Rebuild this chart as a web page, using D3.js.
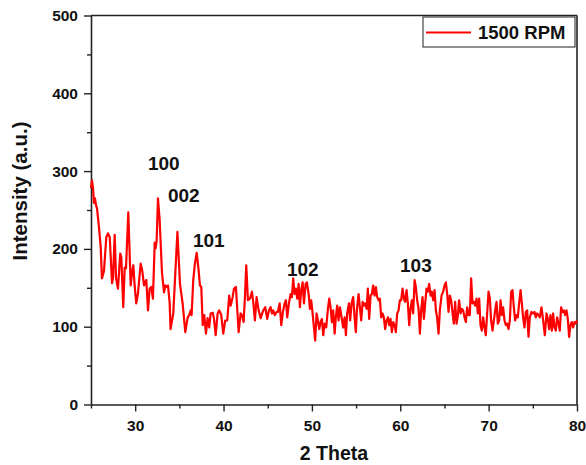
<!DOCTYPE html>
<html>
<head>
<meta charset="utf-8">
<script src="https://cdn.jsdelivr.net/npm/d3@7"></script>
<style>
  html, body { margin: 0; padding: 0; background: #fff; }
  svg text { font-family: "Liberation Sans", Arial, sans-serif; font-weight: bold; fill: #111; }
</style>
</head>
<body>
<svg id="chart" width="586" height="465"></svg>
<script>
const twoTheta = [25.00,25.11,25.23,25.34,25.45,25.57,25.68,25.90,26.10,26.24,26.47,26.73,26.92,27.12,27.38,27.49,27.68,27.83,28.05,28.31,28.43,28.65,28.81,28.96,29.22,29.49,29.67,29.79,29.94,30.12,30.32,30.62,30.80,31.00,31.26,31.45,31.64,31.82,32.01,32.21,32.32,32.43,32.58,32.77,33.03,33.26,33.41,33.60,33.71,33.90,34.00,34.31,34.78,35.07,35.37,35.67,35.94,36.12,36.28,36.39,36.57,36.76,36.96,37.14,37.33,37.48,37.64,37.82,38.01,38.20,38.38,38.54,38.77,38.91,39.11,39.33,39.51,39.74,39.97,40.19,40.42,40.64,40.80,41.03,41.18,41.40,41.71,41.93,42.08,42.27,42.42,42.57,42.76,42.99,43.21,43.36,43.55,43.74,43.97,44.20,44.49,44.72,44.94,45.14,45.33,45.48,45.62,45.81,46.01,46.15,46.35,46.53,46.72,46.91,47.06,47.21,47.40,47.59,47.74,47.88,48.04,48.19,48.34,48.50,48.64,48.79,48.95,49.10,49.29,49.43,49.63,49.77,49.92,50.08,50.23,50.37,50.53,50.68,50.83,50.98,51.13,51.28,51.44,51.62,51.81,51.96,52.11,52.26,52.41,52.57,52.71,52.86,53.02,53.17,53.36,53.54,53.70,53.85,53.99,54.19,54.33,54.49,54.67,54.83,54.97,55.09,55.28,55.43,55.58,55.74,55.88,56.03,56.19,56.33,56.48,56.64,56.79,56.93,57.09,57.24,57.39,57.55,57.69,57.84,58.00,58.14,58.29,58.45,58.60,58.74,58.90,59.05,59.20,59.35,59.50,59.65,59.81,59.95,60.10,60.26,60.41,60.55,60.71,60.86,61.01,61.16,61.31,61.46,61.62,61.76,61.91,62.07,62.22,62.36,62.52,62.67,62.82,62.97,63.12,63.27,63.43,63.57,63.72,63.88,64.03,64.17,64.33,64.48,64.67,64.85,65.01,65.16,65.31,65.46,65.61,65.76,65.92,66.06,66.21,66.37,66.52,66.66,66.82,66.97,67.12,67.27,67.42,67.57,67.73,67.87,68.02,68.18,68.33,68.47,68.63,68.78,68.93,69.08,69.23,69.38,69.54,69.68,69.83,69.99,70.14,70.28,70.44,70.59,70.74,70.89,71.04,71.19,71.35,71.49,71.64,71.80,71.95,72.09,72.25,72.40,72.55,72.70,72.85,73.00,73.16,73.30,73.45,73.61,73.76,73.90,74.06,74.21,74.36,74.51,74.66,74.85,75.03,75.19,75.34,75.49,75.64,75.79,75.98,76.17,76.36,76.55,76.70,76.84,77.00,77.15,77.30,77.45,77.60,77.75,77.91,78.05,78.20,78.36,78.51,78.65,78.81,78.96,79.11,79.26,79.41,79.56,79.72,79.86,80.00];
const intensity = [278,288,278,259,265,256,252,228,202,162,172,215,220,215,156,163,218,163,149,194,189,125,176,175,247,153,172,179,153,130,143,181,172,153,160,121,149,151,136,208,201,211,265,237,170,144,153,151,153,131,97,117,222,155,130,93,112,115,121,115,160,181,195,177,153,151,102,115,91,111,99,117,118,111,89,117,121,115,91,108,108,140,127,138,149,151,93,117,115,106,138,179,134,136,145,132,108,138,121,111,121,125,110,121,125,117,121,115,119,119,130,102,119,130,134,112,130,142,138,162,142,149,136,155,125,147,157,130,155,157,142,123,134,117,99,82,117,108,97,106,110,89,104,99,123,136,125,106,121,91,112,127,108,125,112,99,112,89,117,130,108,130,138,112,93,121,142,125,108,132,127,130,123,149,110,140,142,153,140,151,138,134,136,112,117,112,97,108,112,102,110,93,106,102,93,117,121,134,134,149,136,132,147,130,102,123,134,117,160,151,134,123,91,121,138,110,130,149,145,155,140,145,134,147,121,112,91,121,140,145,153,157,142,119,140,134,117,104,132,104,115,134,117,123,121,112,106,125,115,115,162,130,132,127,136,117,136,102,95,112,99,89,117,145,136,108,95,108,121,132,104,108,134,115,125,108,102,104,97,108,145,147,125,108,115,112,130,147,130,112,99,119,121,87,112,119,117,119,112,117,115,112,125,108,89,117,110,97,115,95,117,99,95,112,104,95,125,119,121,115,121,110,87,102,106,99,106,104,108];
const xMajor = [30,40,50,60,70,80];
const xMinor = [25,35,45,55,65,75];
const yMajor = [0,100,200,300,400,500];
const yMinor = [50,150,250,350,450];
const peakLabels = ["100","002","101","102","103"];
const peakX = [31.45,33.71,36.54,47.18,59.97];
const peakY = [301,260,202,165,170];
const seriesName = "1500 RPM";

const svg = d3.select("#chart");
const plotLeft = 91, plotRight = 577, plotTop = 15.5, plotBottom = 404.5;
const x = d3.scaleLinear().domain([25, 80]).range([plotLeft, plotRight]);
const y = d3.scaleLinear().domain([0, 500]).range([plotBottom, plotTop]);
const axisColor = "#222";

// frame top & right
svg.append("line").attr("x1", plotLeft).attr("x2", plotRight).attr("y1", plotTop).attr("y2", plotTop)
  .attr("stroke", axisColor).attr("stroke-width", 1.6);
svg.append("line").attr("x1", plotRight).attr("x2", plotRight).attr("y1", plotTop).attr("y2", plotBottom)
  .attr("stroke", axisColor).attr("stroke-width", 1.6);

// x axis
svg.append("g").attr("transform", `translate(0,${plotBottom})`)
  .call(d3.axisBottom(x).tickValues(xMajor).tickSize(7).tickSizeOuter(0).tickPadding(8));
svg.append("g").attr("transform", `translate(0,${plotBottom})`)
  .call(d3.axisBottom(x).tickValues(xMinor).tickSize(4).tickSizeOuter(0).tickFormat(""))
  .select(".domain").remove();
// y axis
svg.append("g").attr("transform", `translate(${plotLeft},0)`)
  .call(d3.axisLeft(y).tickValues(yMajor).tickSize(7).tickSizeOuter(0).tickPadding(6));
svg.append("g").attr("transform", `translate(${plotLeft},0)`)
  .call(d3.axisLeft(y).tickValues(yMinor).tickSize(4).tickSizeOuter(0).tickFormat(""))
  .select(".domain").remove();

svg.selectAll(".domain").attr("stroke", axisColor).attr("stroke-width", 1.6);
svg.selectAll(".tick line").attr("stroke", axisColor).attr("stroke-width", 1.4);
svg.selectAll(".tick text").attr("font-size", 15.5).attr("font-family", "Liberation Sans, Arial, sans-serif")
  .attr("font-weight", "bold").attr("fill", "#111");

// line
const data = twoTheta.map((t, i) => ({ t, v: intensity[i] }));
svg.append("path").datum(data)
  .attr("fill", "none").attr("stroke", "#ff0000").attr("stroke-width", 2.2)
  .attr("stroke-linejoin", "round")
  .attr("d", d3.line().x(d => x(d.t)).y(d => y(d.v)));

// peak labels
svg.selectAll(".peak").data(peakLabels).enter().append("text")
  .attr("class", "peak")
  .attr("x", (d, i) => x(peakX[i]))
  .attr("y", (d, i) => y(peakY[i]))
  .attr("font-size", 19)
  .text(d => d);

// axis titles
svg.append("text").attr("x", 334).attr("y", 460).attr("text-anchor", "middle")
  .attr("font-size", 19.5).text("2 Theta");
svg.append("text").attr("transform", "translate(27,191) rotate(-90)").attr("text-anchor", "middle")
  .attr("font-size", 20.5).text("Intensity (a.u.)");

// legend
const lg = svg.append("g");
lg.append("rect").attr("x", 423).attr("y", 17).attr("width", 152).attr("height", 30)
  .attr("fill", "#fff").attr("stroke", "#444").attr("stroke-width", 1.2);
lg.append("line").attr("x1", 426).attr("x2", 471).attr("y1", 32.5).attr("y2", 32.5)
  .attr("stroke", "#ff0000").attr("stroke-width", 2);
lg.append("text").attr("x", 478).attr("y", 39).attr("font-size", 18.5).text(seriesName);
</script>
</body>
</html>
